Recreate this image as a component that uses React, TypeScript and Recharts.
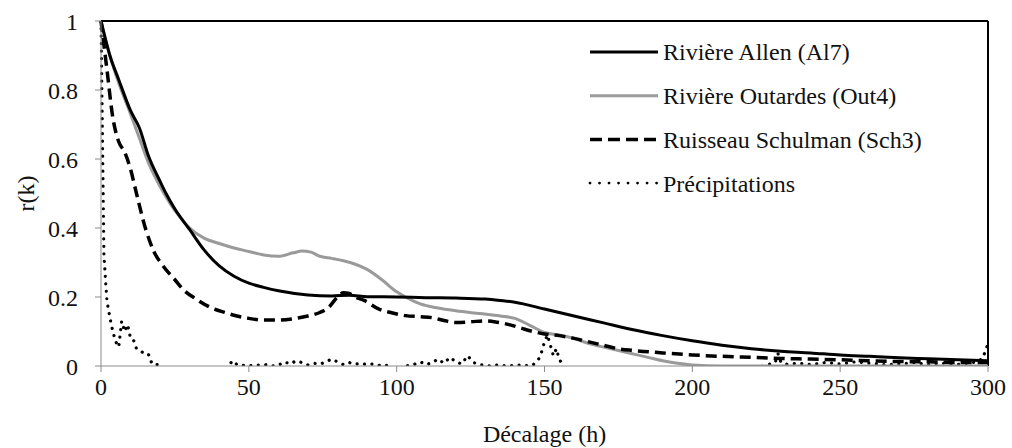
import React from "react";
import { LineChart, Line, XAxis, YAxis, ReferenceLine, Legend, Label } from "recharts";

const FONT = "'Liberation Serif', 'DejaVu Serif', 'Times New Roman', Times, serif";

const xTicks = [0, 50, 100, 150, 200, 250, 300];
const yTicks = [0, 0.2, 0.4, 0.6, 0.8, 1];
const yTickLabels = ["0", "0.2", "0.4", "0.6", "0.8", "1"];

const seriesNames = [
  "Rivière Allen (Al7)",
  "Rivière Outardes (Out4)",
  "Ruisseau Schulman (Sch3)",
  "Précipitations",
];

const allenLag = [0, 3, 6, 10, 13, 16, 20, 22, 25, 30, 35, 40, 45, 50, 55, 60, 70, 78, 84, 90, 100, 110, 120, 130, 135, 140, 150, 160, 170, 180, 190, 200, 210, 220, 230, 240, 250, 260, 270, 280, 290, 300];
const allenR = [1, 0.9, 0.83, 0.74, 0.69, 0.61, 0.535, 0.5, 0.455, 0.395, 0.335, 0.29, 0.26, 0.24, 0.228, 0.218, 0.206, 0.203, 0.205, 0.201, 0.2, 0.198, 0.197, 0.194, 0.19, 0.185, 0.165, 0.145, 0.125, 0.105, 0.088, 0.073, 0.06, 0.05, 0.043, 0.038, 0.032, 0.028, 0.024, 0.021, 0.018, 0.015];

const outLag = [0, 3, 6, 10, 13, 16, 20, 25, 30, 35, 40, 45, 50, 55, 60, 65, 68, 71, 74, 78, 82, 86, 90, 95, 100, 103, 108, 114, 120, 128, 135, 140, 145, 150, 155, 160, 165, 170, 175, 180, 185, 190, 195, 200, 210, 300];
const outR = [1, 0.9, 0.82, 0.73, 0.66, 0.59, 0.52, 0.45, 0.4, 0.37, 0.355, 0.342, 0.332, 0.322, 0.318, 0.328, 0.333, 0.33, 0.318, 0.312, 0.305, 0.295, 0.28, 0.25, 0.215, 0.2, 0.18, 0.168, 0.16, 0.152, 0.145, 0.138, 0.118, 0.097, 0.09, 0.08, 0.065, 0.055, 0.045, 0.035, 0.025, 0.015, 0.008, 0.003, 0, 0];

const schLag = [0, 2, 4, 6, 8, 10, 12, 15, 18, 21, 25, 28, 32, 37, 42, 46, 50, 55, 60, 65, 70, 74, 77, 80, 82, 84, 86, 89, 94, 98, 103, 108, 112, 116, 120, 125, 130, 134, 138, 142, 146, 150, 155, 160, 165, 170, 175, 180, 190, 200, 210, 220, 230, 240, 250, 260, 270, 280, 290, 300];
const schR = [1, 0.86, 0.72, 0.65, 0.62, 0.57, 0.5, 0.4, 0.33, 0.29, 0.25, 0.22, 0.195, 0.17, 0.155, 0.145, 0.138, 0.133, 0.133, 0.137, 0.145, 0.155, 0.17, 0.2, 0.212, 0.21, 0.2, 0.19, 0.165, 0.155, 0.146, 0.143, 0.14, 0.132, 0.126, 0.128, 0.131, 0.127, 0.12, 0.11, 0.1, 0.093, 0.088, 0.08, 0.07, 0.06, 0.05, 0.045, 0.038, 0.032, 0.028, 0.025, 0.022, 0.02, 0.018, 0.015, 0.013, 0.012, 0.01, 0.01];

const precLag = [0, 1, 2, 3, 4, 5, 6, 7, 8, 9, 10, 11, 12, 13, 14, 15, 16, 17, 18, 19, 20, 21, 22, 25, 30, 35, 40, 43, 44, 45, 46, 48, 50, 52, 54, 56, 58, 60, 62, 64, 66, 68, 70, 72, 74, 76, 78, 80, 82, 84, 86, 88, 90, 92, 94, 96, 98, 100, 102, 104, 106, 108, 110, 112, 114, 116, 118, 120, 122, 124, 126, 128, 130, 132, 134, 136, 138, 140, 142, 144, 146, 148, 149, 150, 151, 152, 153, 154, 155, 156, 157, 160, 170, 180, 190, 200, 210, 220, 224, 226, 228, 229, 230, 232, 236, 240, 245, 250, 255, 260, 265, 270, 275, 280, 285, 290, 295, 298, 299, 300];
const precR = [1, 0.32, 0.19, 0.14, 0.1, 0.07, 0.055, 0.13, 0.1, 0.12, 0.08, 0.075, 0.05, 0.045, 0.04, 0.04, 0.035, 0.012, 0.002, 0.004, 0, -0.01, -0.02, -0.03, -0.03, -0.025, -0.02, -0.005, 0.01, 0.015, 0.003, 0.002, 0, 0.003, 0.002, 0.004, 0, 0.002, 0.012, 0.006, 0.015, 0.01, 0.003, 0.008, 0.005, 0.012, 0.02, 0.012, 0.004, 0.01, 0.005, 0.008, 0.004, 0.006, 0.002, 0.004, -0.005, -0.01, -0.005, 0.002, 0.005, 0.012, 0.004, 0.01, 0.02, 0.008, 0.025, 0.012, 0.006, 0.03, 0.01, 0.004, 0.002, 0, 0.003, 0.001, 0, 0.002, 0.003, 0.001, 0.002, 0.02, 0.04, 0.07, 0.09, 0.06, 0.03, 0.05, 0.02, 0.005, -0.01, -0.03, -0.04, -0.04, -0.03, -0.025, -0.02, -0.01, 0, 0.005, 0.01, 0.035, 0.01, 0.005, 0.008, 0.004, 0.01, 0.006, 0.012, 0.008, 0.004, 0.006, 0.01, 0.004, 0.008, 0.005, 0.01, 0.02, 0.04, 0.065];

const zip = (lag: number[], r: number[]) => lag.map((k, i) => ({ k, r: r[i] }));
const allenData = zip(allenLag, allenR);
const outData = zip(outLag, outR);
const schData = zip(schLag, schR);
const precData = zip(precLag, precR);

const legendStyles = [
  { stroke: "#000", width: 3, dash: undefined as string | undefined, cap: "butt" },
  { stroke: "#9a9a9a", width: 3, dash: undefined as string | undefined, cap: "butt" },
  { stroke: "#000", width: 3.5, dash: "12 6", cap: "butt" },
  { stroke: "#000", width: 2.8, dash: "0.01 9.5", cap: "round" },
];

const textStyle = { fontFamily: FONT, fontSize: 24, fill: "#111" };

function LegendBox() {
  return (
    <svg width={340} height={180} style={{ display: "block" }}>
      {seriesNames.map((name, i) => {
        const y = 22 + i * 43.7;
        const s = legendStyles[i];
        return (
          <g key={name}>
            <line x1={5} x2={73} y1={y} y2={y} stroke={s.stroke} strokeWidth={s.width} strokeDasharray={s.dash} strokeLinecap={s.cap as any} />
            <text x={78} y={y} dy="0.35em" style={textStyle}>{name}</text>
          </g>
        );
      })}
    </svg>
  );
}

function YLabel(props: any) {
  const vb = props.viewBox || { x: 0, y: 0, width: 0, height: 0 };
  const cx = 26;
  const cy = vb.y + vb.height / 2;
  return (
    <text x={cx} y={cy} textAnchor="middle" dy="0.35em" transform={`rotate(-90, ${cx}, ${cy})`} style={textStyle}>r(k)</text>
  );
}

export default function App() {
  return (
    <div style={{ position: "absolute", left: 0, top: 0, background: "#fff", fontFamily: FONT }}>
      <LineChart width={1012} height={448} margin={{ top: 21, right: 24, bottom: 0, left: 0 }} style={{ fontFamily: FONT }}>
        <XAxis
          dataKey="k"
          type="number"
          domain={[0, 300]}
          ticks={xTicks}
          allowDuplicatedCategory={false}
          height={82}
          tickSize={6}
          tickMargin={6}
          stroke="#8a8a8a"
          tick={{ fill: "#111", fontSize: 24, style: { fontFamily: FONT } }}
        >
          <Label value="Décalage (h)" position="insideBottom" offset={6} fill="#111" fontSize={24} style={{ fontFamily: FONT }} />
        </XAxis>
        <YAxis
          type="number"
          domain={[0, 1]}
          ticks={yTicks}
          allowDataOverflow
          width={101}
          tickSize={6}
          tickMargin={17}
          stroke="#8a8a8a"
          tickFormatter={(v: number) => yTickLabels[yTicks.indexOf(v)] ?? String(v)}
          tick={{ fill: "#111", fontSize: 24, style: { fontFamily: FONT } }}
        >
          <Label content={YLabel} />
        </YAxis>
        <ReferenceLine y={1} stroke="#000" strokeWidth={2} />
        <ReferenceLine x={300} stroke="#000" strokeWidth={2} />
        <Legend
          layout="vertical"
          align="center"
          verticalAlign="middle"
          content={() => <LegendBox />}
          wrapperStyle={{ position: "absolute", left: 585, top: 30, width: 340, height: 180 }}
        />
        <Line data={precData} dataKey="r" type="linear" stroke="#000" strokeWidth={3.2} strokeDasharray="0.01 7.5" strokeLinecap="round" dot={false} isAnimationActive={false} name={seriesNames[3]} />
        <Line data={outData} dataKey="r" type="monotone" stroke="#9a9a9a" strokeWidth={3} dot={false} isAnimationActive={false} name={seriesNames[1]} />
        <Line data={schData} dataKey="r" type="monotone" stroke="#000" strokeWidth={3.5} strokeDasharray="11 6" dot={false} isAnimationActive={false} name={seriesNames[2]} />
        <Line data={allenData} dataKey="r" type="monotone" stroke="#000" strokeWidth={3} dot={false} isAnimationActive={false} name={seriesNames[0]} />
      </LineChart>
    </div>
  );
}
